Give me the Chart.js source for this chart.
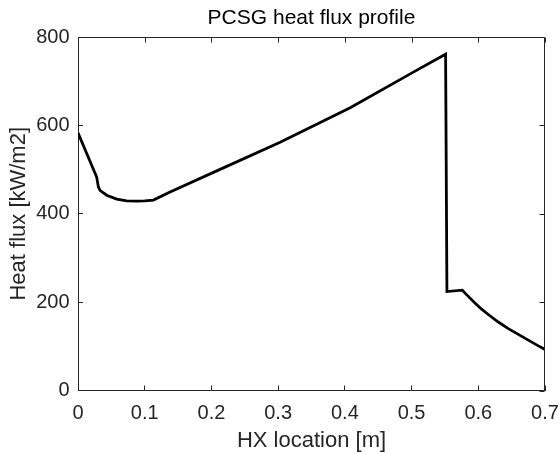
<!DOCTYPE html>
<html>
<head>
<meta charset="utf-8">
<script src="https://cdn.jsdelivr.net/npm/chart.js@4"></script>
<style>
  html, body { margin: 0; padding: 0; background: #fff; }
  #wrap { width: 560px; height: 454px; }
</style>
</head>
<body>
<div id="wrap"><canvas id="c" width="560" height="454"></canvas></div>
<script>
// ---- data ----
const chartTitle = 'PCSG heat flux profile';
const xAxisTitle = 'HX location [m]';
const yAxisTitle = 'Heat flux [kW/m2]';
const xTicks = [0, 0.1, 0.2, 0.3, 0.4, 0.5, 0.6, 0.7];
const yTicks = [0, 200, 400, 600, 800];
const hxLocation = [0, 0.028, 0.0305, 0.033, 0.043, 0.058, 0.073, 0.088, 0.100, 0.113, 0.138, 0.208, 0.303, 0.408, 0.508, 0.551, 0.553, 0.576, 0.585, 0.595, 0.605, 0.615, 0.630, 0.645, 0.660, 0.675, 0.690, 0.700];
const heatFlux = [583, 483, 461, 453, 442, 433, 429, 428.5, 429, 431, 449, 497, 562, 640, 725, 761, 224, 227, 213, 198, 184, 172, 155, 140, 127, 114, 101, 93];

const FONT = '"Liberation Sans", Arial, Helvetica, sans-serif';
const AX = '#262626';

const boxPlugin = {
  id: 'boxPlugin',
  afterDatasetsDraw(chart) {
    const {ctx, chartArea: a, scales} = chart;
    const L = Math.round(a.left) + 0.5, R = Math.round(a.right) - 0.5;
    const T = Math.round(a.top) + 0.5, B = Math.round(a.bottom) - 0.5;
    ctx.save();
    ctx.strokeStyle = AX;
    ctx.lineWidth = 1;
    ctx.beginPath();
    ctx.moveTo(L, T); ctx.lineTo(R, T);
    ctx.moveTo(R, T); ctx.lineTo(R, B);
    xTicks.forEach(v => {
      const px = Math.round(scales.x.getPixelForValue(v)) + 0.5;
      ctx.moveTo(px, T); ctx.lineTo(px, T + 5);
    });
    yTicks.forEach(v => {
      const py = Math.round(scales.y.getPixelForValue(v)) + 0.5;
      ctx.moveTo(R, py); ctx.lineTo(R - 5, py);
    });
    ctx.stroke();
    ctx.restore();
  }
};

new Chart(document.getElementById('c'), {
  type: 'line',
  data: {
    datasets: [{
      data: hxLocation.map((x, i) => ({x: x, y: heatFlux[i]})),
      borderColor: '#000',
      borderWidth: 2.8,
      borderJoinStyle: 'miter',
      pointRadius: 0,
      tension: 0,
      fill: false
    }]
  },
  options: {
    responsive: false,
    animation: false,
    devicePixelRatio: 1,
    layout: { padding: { top: 0, left: 6, right: 15, bottom: 0 } },
    plugins: {
      legend: { display: false },
      tooltip: { enabled: false },
      title: {
        display: true,
        text: chartTitle,
        fullSize: false,
        color: '#000',
        font: { family: FONT, size: 21, weight: 'normal', lineHeight: 1.2 },
        padding: { top: 6.1, bottom: 5.7 }
      }
    },
    scales: {
      x: {
        type: 'linear',
        min: 0, max: 0.7,
        afterBuildTicks: s => { s.ticks = xTicks.map(v => ({value: v})); },
        afterFit: s => { s.height = 63.5; s.paddingLeft = 0; s.paddingRight = 0; },
        ticks: {
          color: AX,
          font: { family: FONT, size: 20 },
          padding: 16,
          maxRotation: 0,
          autoSkip: false,
          callback: v => String(Math.round(v * 10) / 10)
        },
        grid: { drawOnChartArea: false, tickLength: -5, tickColor: AX, tickWidth: 1 },
        border: { color: AX, width: 1 },
        title: {
          display: true,
          text: xAxisTitle,
          color: AX,
          font: { family: FONT, size: 22, lineHeight: 1.2 },
          padding: 0
        }
      },
      y: {
        type: 'linear',
        min: 0, max: 800,
        afterBuildTicks: s => { s.ticks = yTicks.map(v => ({value: v})); },
        afterFit: s => { s.width = 72; s.paddingTop = 0; s.paddingBottom = 0; },
        ticks: {
          color: AX,
          font: { family: FONT, size: 20 },
          padding: 13.5,
          autoSkip: false
        },
        grid: { drawOnChartArea: false, tickLength: -5, tickColor: AX, tickWidth: 1 },
        border: { color: AX, width: 1 },
        title: {
          display: true,
          text: yAxisTitle,
          color: AX,
          font: { family: FONT, size: 22, lineHeight: 1.2 },
          padding: 0
        }
      }
    }
  },
  plugins: [boxPlugin]
});
</script>
</body>
</html>
